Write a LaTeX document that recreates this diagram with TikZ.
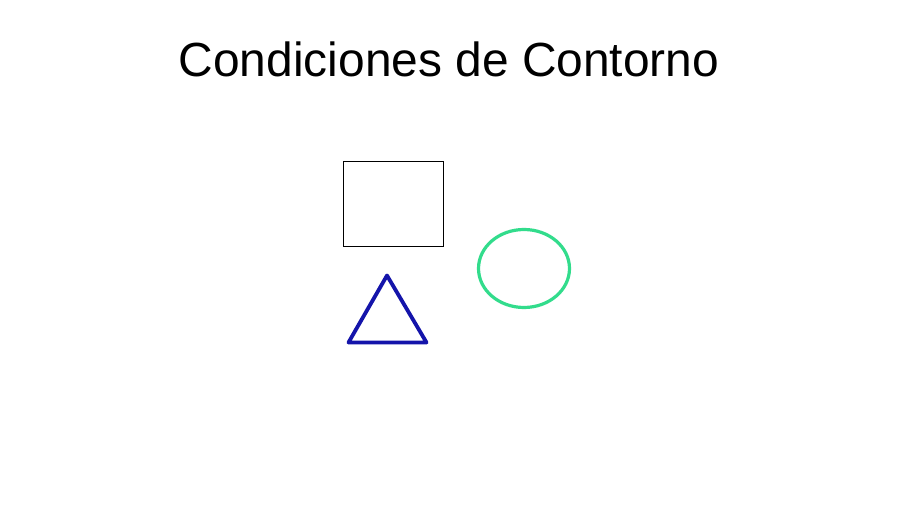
\documentclass[tikz,border=0pt]{standalone}
\usepackage{fontspec}
\setmainfont{Liberation Sans}
\definecolor{triblue}{RGB}{20,20,170}
\definecolor{ellgreen}{RGB}{50,220,140}
\tikzset{
  titlestyle/.style={font=\fontsize{47.9}{57}\selectfont, anchor=base, inner sep=0pt},
  boxstyle/.style={draw=black, line width=1pt},
  tristyle/.style={draw=triblue, line width=3.8pt, line join=round},
  ellstyle/.style={draw=ellgreen, line width=3.2pt}
}
\begin{document}
\begin{tikzpicture}[x=1pt,y=-1pt]
\useasboundingbox[fill=white] (0,0) rectangle (900,510);
\node[titlestyle] (title) at (449,77) {Condiciones de Contorno};
\draw[boxstyle] (343.5,161.5) rectangle (443.5,247);
\draw[tristyle] (387,275.5) -- (426.5,342.5) -- (348.5,342.5) -- cycle;
\draw[ellstyle] (524,268.5) ellipse [x radius=45.5, y radius=39];
\end{tikzpicture}
\end{document}
